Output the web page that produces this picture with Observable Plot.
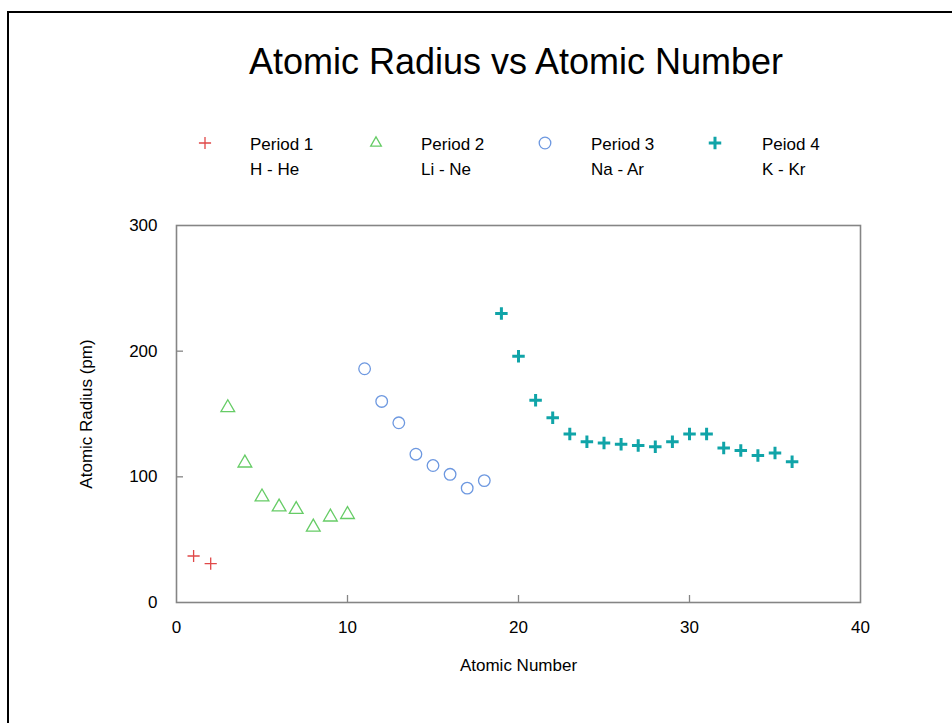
<!DOCTYPE html>
<html>
<head>
<meta charset="utf-8">
<script src="https://cdn.jsdelivr.net/npm/d3@7"></script>
<script src="https://cdn.jsdelivr.net/npm/@observablehq/plot@0.6"></script>
<style>
  body { margin: 0; background: #fff; font-family: "Liberation Sans", Arial, sans-serif; }
  #wrap { position: relative; width: 952px; height: 723px; overflow: hidden; background: #fff; }
  #border { position: absolute; left: 7px; top: 11px; width: 1200px; height: 1200px;
            border-top: 2px solid #000; border-left: 2px solid #000; pointer-events: none; }
  #head { position: relative; height: 200px; }
  #title { position: absolute; left: 0; width: 1032px; top: 44px; text-align: center;
           font-size: 36px; line-height: 36px; color: #000; }
  .leg { position: absolute; top: 0; }
  .leg svg { position: absolute; overflow: visible; }
  .leg .t { position: absolute; font-size: 17px; line-height: 20px; color: #000; white-space: nowrap; }
</style>
</head>
<body>
<div id="wrap">
  <div id="head">
    <div id="title">Atomic Radius vs Atomic Number</div>
    <div id="legend"></div>
  </div>
  <div id="chart"></div>
  <div id="border"></div>
</div>
<script>
// ---- data ----
const seriesNames = ["Period 1", "Period 2", "Period 3", "Peiod 4"];
const seriesRanges = ["H - He", "Li - Ne", "Na - Ar", "K - Kr"];
const seriesColors = ["#e04848", "#66cc66", "#6d98e0", "#10a4a8"];

const period1Z = [1, 2];
const period1R = [37, 31];
const period2Z = [3, 4, 5, 6, 7, 8, 9, 10];
const period2R = [155, 111, 84, 76, 74, 60, 68, 70];
const period3Z = [11, 12, 13, 14, 15, 16, 17, 18];
const period3R = [186, 160, 143, 118, 109, 102, 91, 97];
const period4Z = [19, 20, 21, 22, 23, 24, 25, 26, 27, 28, 29, 30, 31, 32, 33, 34, 35, 36];
const period4R = [230, 196, 161, 147, 134, 128, 127, 126, 125, 124, 128, 134, 134, 123, 121, 117, 119, 112];

const xTicks = [0, 10, 20, 30, 40];
const yTicks = [0, 100, 200, 300];

// ---- build table ----
const groups = [
  {name: seriesNames[0], z: period1Z, r: period1R},
  {name: seriesNames[1], z: period2Z, r: period2R},
  {name: seriesNames[2], z: period3Z, r: period3R},
  {name: seriesNames[3], z: period4Z, r: period4R}
];
const rows = groups.flatMap(g => g.z.map((z, i) => ({series: g.name, z, r: g.r[i]})));
const of = name => rows.filter(d => d.series === name);

// symbol styles per series
const styles = [
  {symbol: "plus", r: 4, strokeWidth: 1.3},
  {symbol: "triangle", r: 5.1, strokeWidth: 1.3},
  {symbol: "circle", r: 5.8, strokeWidth: 1.3},
  {symbol: "plus", r: 4.1, strokeWidth: 3}
];

const chart = Plot.plot({
  width: 952,
  height: 523,
  marginTop: 25,
  marginBottom: 121,
  marginLeft: 176,
  marginRight: 92,
  style: {fontFamily: "'Liberation Sans', Arial, sans-serif", fontSize: "17px", color: "#000", background: "transparent"},
  x: {domain: [0, 40]},
  y: {domain: [0, 300]},
  marks: [
    Plot.frame({stroke: "#858585", strokeWidth: 1.6}),
    Plot.axisX({ticks: xTicks, tickSize: 0, tickPadding: 18, label: "Atomic Number", labelAnchor: "center", labelArrow: "none", labelOffset: 68}),
    Plot.axisX({ticks: xTicks.slice(1, -1), tickSize: 7, dy: -7, tickFormat: () => "", label: null, stroke: "#858585", strokeWidth: 1.3}),
    Plot.axisY({ticks: yTicks, tickSize: 0, tickPadding: 19, label: "Atomic Radius (pm)", labelAnchor: "center", labelArrow: "none", labelOffset: 97}),
    Plot.axisY({ticks: yTicks.slice(1, -1), tickSize: 7, dx: 7, tickFormat: () => "", label: null, stroke: "#858585", strokeWidth: 1.3}),
    ...groups.map((g, i) => Plot.dot(of(g.name), {
      x: "z", y: "r", symbol: styles[i].symbol, r: styles[i].r,
      stroke: seriesColors[i], strokeWidth: styles[i].strokeWidth, fill: "none"
    }))
  ]
});
document.getElementById("chart").appendChild(chart);

// ---- legend (HTML) ----
const legend = document.getElementById("legend");
const legSymX = [205, 376, 545, 715];
const legTextX = [250, 421, 591, 762];
groups.forEach((g, i) => {
  const item = document.createElement("div");
  item.className = "leg";
  const svg = d3.create("svg").attr("width", 30).attr("height", 30)
    .style("left", (legSymX[i] - 15) + "px").style("top", (143 - 15) + "px");
  const symType = styles[i].symbol === "plus" ? d3.symbolPlus : styles[i].symbol === "triangle" ? d3.symbolTriangle2 : d3.symbolCircle;
  svg.append("path")
    .attr("transform", "translate(15,15)")
    .attr("d", d3.symbol(symType, Math.PI * styles[i].r * styles[i].r)())
    .attr("fill", "none").attr("stroke", seriesColors[i]).attr("stroke-width", styles[i].strokeWidth);
  item.appendChild(svg.node());
  const t1 = document.createElement("div");
  t1.className = "t"; t1.textContent = g.name;
  t1.style.left = legTextX[i] + "px"; t1.style.top = "135px";
  const t2 = document.createElement("div");
  t2.className = "t"; t2.textContent = seriesRanges[i];
  t2.style.left = legTextX[i] + "px"; t2.style.top = "160px";
  item.appendChild(t1); item.appendChild(t2);
  legend.appendChild(item);
});
</script>
</body>
</html>
